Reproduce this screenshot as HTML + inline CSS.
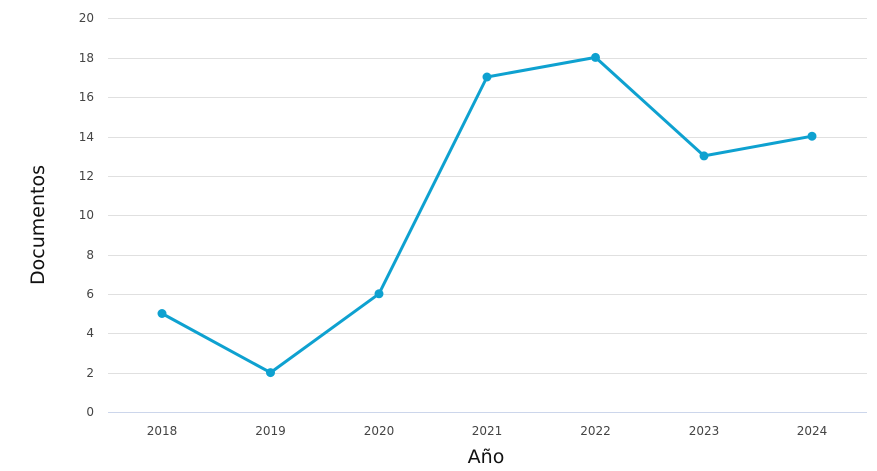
<!DOCTYPE html>
<html><head><meta charset="utf-8"><style>
html,body{margin:0;padding:0;background:#fff;}
svg{display:block;font-family:"DejaVu Sans","Liberation Sans",sans-serif;}
</style></head><body>
<svg width="877" height="471" viewBox="0 0 877 471" xmlns="http://www.w3.org/2000/svg">
<g stroke="#e0e0e0" stroke-width="1">
<line x1="108" x2="867" y1="18.5" y2="18.5"/>
<line x1="108" x2="867" y1="58.5" y2="58.5"/>
<line x1="108" x2="867" y1="97.5" y2="97.5"/>
<line x1="108" x2="867" y1="137.5" y2="137.5"/>
<line x1="108" x2="867" y1="176.5" y2="176.5"/>
<line x1="108" x2="867" y1="215.5" y2="215.5"/>
<line x1="108" x2="867" y1="255.5" y2="255.5"/>
<line x1="108" x2="867" y1="294.5" y2="294.5"/>
<line x1="108" x2="867" y1="333.5" y2="333.5"/>
<line x1="108" x2="867" y1="373.5" y2="373.5"/>
</g>
<line x1="108" x2="867" y1="412.5" y2="412.5" stroke="#ccd6eb"/>
<g font-size="12" fill="#444" text-anchor="end">
<text x="94" y="22">20</text><text x="94" y="62">18</text><text x="94" y="101">16</text>
<text x="94" y="141">14</text><text x="94" y="180">12</text><text x="94" y="219">10</text>
<text x="94" y="259">8</text><text x="94" y="298">6</text><text x="94" y="337">4</text>
<text x="94" y="377">2</text><text x="94" y="416">0</text>
</g>
<g font-size="12" fill="#444" text-anchor="middle">
<text x="162" y="435">2018</text><text x="270.5" y="435">2019</text><text x="379" y="435">2020</text>
<text x="487" y="435">2021</text><text x="595.5" y="435">2022</text><text x="704" y="435">2023</text>
<text x="812" y="435">2024</text>
</g>
<text x="486" y="463" font-size="19" text-anchor="middle" fill="#111">Año</text>
<text transform="translate(44,225) rotate(-90)" font-size="19" text-anchor="middle" fill="#111">Documentos</text>
<polyline fill="none" stroke="#0ea1d0" stroke-width="3" stroke-linejoin="round" points="162,313.5 270.5,372.6 379,293.8 487,77 595.5,57.4 704,155.9 812,136.2"/>
<g fill="#0ea1d0">
<circle cx="162" cy="313.5" r="4.5"/><circle cx="270.5" cy="372.6" r="4.5"/><circle cx="379" cy="293.8" r="4.5"/>
<circle cx="487" cy="77" r="4.5"/><circle cx="595.5" cy="57.4" r="4.5"/><circle cx="704" cy="155.9" r="4.5"/>
<circle cx="812" cy="136.2" r="4.5"/>
</g>
</svg>
</body></html>
